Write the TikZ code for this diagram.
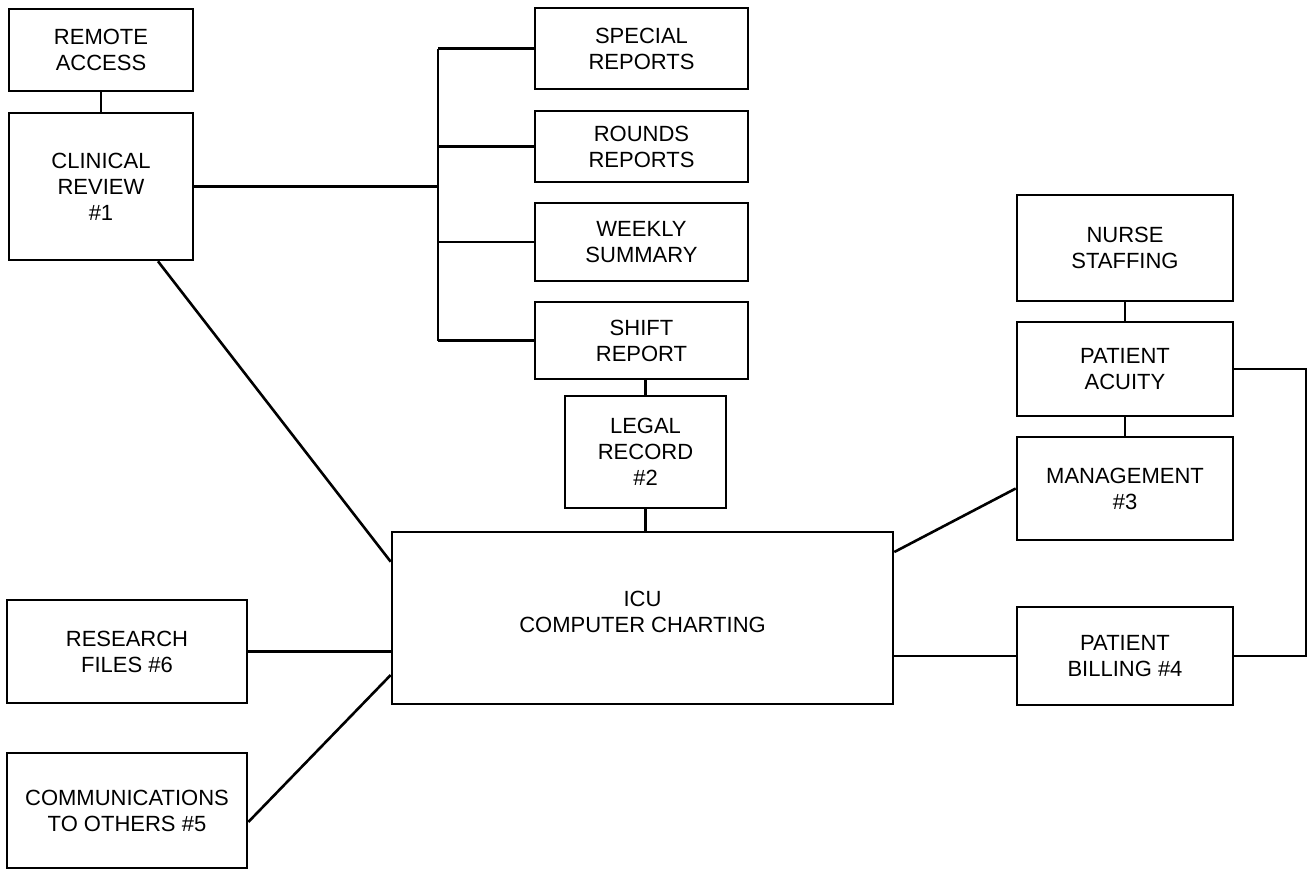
\documentclass[tikz,border=0pt]{standalone}
\usepackage{fontspec}
\setmainfont{Liberation Sans}
\usetikzlibrary{calc}
\begin{document}
\begin{tikzpicture}[x=1pt,y=-1pt,
  box/.style={draw, line width=2.6pt, align=center, inner sep=0pt,
              font=\fontsize{22}{26}\selectfont},
  conn/.style={line width=2.6pt}]
\useasboundingbox (0,0) rectangle (1311,870);

% left column
\node[box, minimum width=184pt, minimum height=82pt]  (remote)   at (101,50)    {REMOTE\\ACCESS};
\node[box, minimum width=184pt, minimum height=147pt] (clinical) at (101,186.5) {CLINICAL\\REVIEW\\\#1};
\node[box, minimum width=240pt, minimum height=103pt] (research) at (127,651.5) {RESEARCH\\FILES \#6};
\node[box, minimum width=240pt, minimum height=115pt] (comm)     at (127,810.5) {COMMUNICATIONS\\TO OTHERS \#5};

% report column
\node[box, minimum width=213pt, minimum height=81pt] (special) at (641.5,48.5)  {SPECIAL\\REPORTS};
\node[box, minimum width=213pt, minimum height=71pt] (rounds)  at (641.5,146.5) {ROUNDS\\REPORTS};
\node[box, minimum width=213pt, minimum height=78pt] (weekly)  at (641.5,242)   {WEEKLY\\SUMMARY};
\node[box, minimum width=213pt, minimum height=77pt] (shift)   at (641.5,340.5) {SHIFT\\REPORT};
\node[box, minimum width=161pt, minimum height=112pt] (legal)  at (645.5,452)   {LEGAL\\RECORD\\\#2};

% center
\node[box, minimum width=501pt, minimum height=172pt, text depth=12pt] (icu) at (642.5,618) {ICU\\COMPUTER CHARTING};

% right column
\node[box, minimum width=216pt, minimum height=106pt] (nurse)   at (1125,248)   {NURSE\\STAFFING};
\node[box, minimum width=216pt, minimum height=94pt]  (acuity)  at (1125,369)   {PATIENT\\ACUITY};
\node[box, minimum width=216pt, minimum height=103pt] (mgmt)    at (1125,488.5) {MANAGEMENT\\\#3};
\node[box, minimum width=216pt, minimum height=98pt]  (billing) at (1125,656)   {PATIENT\\BILLING \#4};

\coordinate (brkx) at (438,0);
\coordinate (loopx) at (1306,0);

% connectors
\draw[conn] (remote.south) -- (clinical.north);
\draw[conn] (clinical.east) -- (clinical.east -| brkx);
\draw[conn] (special.west -| brkx) -- (shift.west -| brkx);
\draw[conn] (special.west) -- (special.west -| brkx);
\draw[conn] (rounds.west) -- (rounds.west -| brkx);
\draw[conn] (weekly.west) -- (weekly.west -| brkx);
\draw[conn] (shift.west) -- (shift.west -| brkx);
\draw[conn] (legal.north) -- (legal.north |- shift.south);
\draw[conn] (legal.south) -- (legal.south |- icu.north);
\draw[conn] ([xshift=57pt]clinical.south) -- ([yshift=-31pt]icu.north west);
\draw[conn] (research.east) -- (research.east -| icu.west);
\draw[conn] ([yshift=-11.5pt]comm.east) -- ([yshift=-57pt]icu.west);
\draw[conn] ([yshift=66pt]icu.east) -- (mgmt.west);
\draw[conn] (billing.west) -- (billing.west -| icu.east);
\draw[conn] (nurse.south) -- (acuity.north);
\draw[conn] (acuity.south) -- (mgmt.north);
\draw[conn] (acuity.east) -- (acuity.east -| loopx) -- (billing.east -| loopx) -- (billing.east);
\end{tikzpicture}
\end{document}
